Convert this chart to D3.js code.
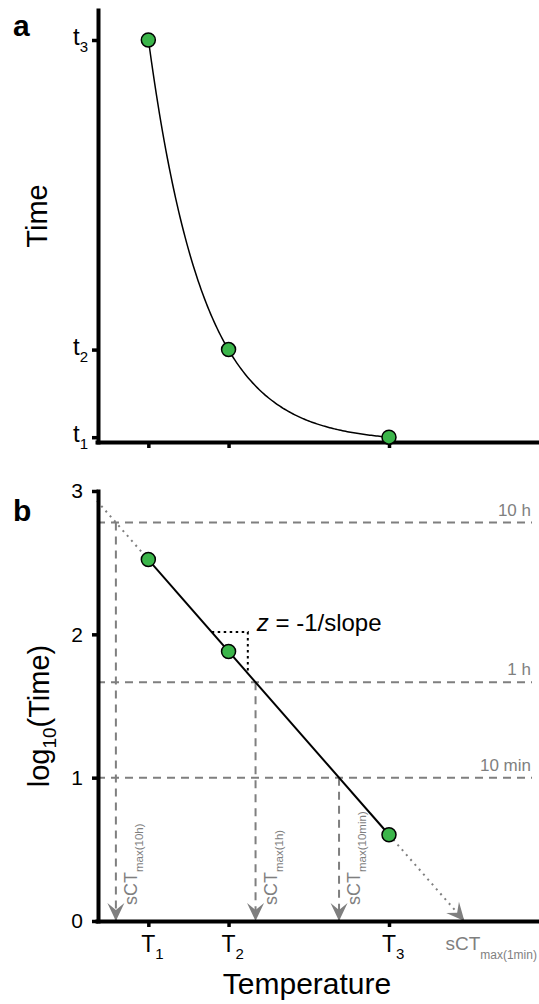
<!DOCTYPE html>
<html>
<head>
<meta charset="utf-8">
<script src="https://cdn.jsdelivr.net/npm/d3@7"></script>
<style>
  html, body { margin: 0; padding: 0; background: #fff; }
  svg { display: block; font-family: "Liberation Sans", Arial, Helvetica, sans-serif; }
</style>
</head>
<body>
<svg id="chart" width="539" height="1004"></svg>
<script>
// ---- data ----
// exposure temperatures (arbitrary units) and their tick subscripts
const temperatures = [1, 2, 4];
const tempSubs = ["1", "2", "3"];
// survival time on a linear scale (panel a) and tick subscripts
const times = [335, 77, 4];
const timeSubs = ["3", "2", "1"];
// log10 survival time (panel b)
const logTimes = [2.522, 1.880, 0.602];
const logTicks = [0, 1, 2, 3];
// reference durations (log10 of time) and their labels
const refLogs = [2.78, 1.666, 1.0];
const refLabels = ["10 h", "1 h", "10 min"];
const refSubs = ["max(10h)", "max(1h)", "max(10min)"];
// extrapolation target at log10(time) = 0
const extLog = 0;
const extSub = "max(1min)";
// temperatures spanning the slope bracket
const slopeSpan = [1.79, 2.24];

// ---- helpers ----
function linearFit(xs, ys) {
  const mx = d3.mean(xs), my = d3.mean(ys);
  const sxy = d3.sum(xs, (v, i) => (v - mx) * (ys[i] - my));
  const sxx = d3.sum(xs, v => (v - mx) * (v - mx));
  const slope = sxy / sxx;
  return { slope, intercept: my - slope * mx };
}
const GREEN = "#3bb54a";
const GREY = "#7f7f7f";

const svg = d3.select("#chart");

// shared temperature scale
const x = d3.scaleLinear().domain([0.36, 5.87]).range([97, 539]);

function styleAxis(g) {
  g.select(".domain").attr("stroke", "#000").attr("stroke-width", 4).attr("stroke-linecap", "square");
  g.selectAll(".tick line").attr("stroke", "#000").attr("stroke-width", 3.5);
}

// ================= panel a : linear time =================
const yA = d3.scaleLinear().domain([0, 360]).range([442, 10]);
const gA = svg.append("g");

const fitA = linearFit(temperatures, times.map(Math.log10));
const curveT = d3.range(temperatures[0], temperatures[2] + 1e-9, 0.02);
gA.append("path")
  .datum(curveT)
  .attr("fill", "none")
  .attr("stroke", "#000")
  .attr("stroke-width", 1.5)
  .attr("d", d3.line()
    .x(t => x(t))
    .y(t => yA(Math.pow(10, fitA.intercept + fitA.slope * t))));

// axes
gA.append("g")
  .attr("transform", "translate(0,442)")
  .call(d3.axisBottom(x).tickValues(temperatures).tickSize(6).tickSizeOuter(0).tickFormat(""))
  .call(styleAxis);
gA.append("g")
  .attr("transform", "translate(98,0)")
  .call(d3.axisLeft(yA).tickValues(times).tickSize(6).tickSizeOuter(0).tickFormat(""))
  .call(styleAxis);

// t tick labels
times.forEach((v, i) => {
  const t = gA.append("text")
    .attr("x", 88).attr("y", yA(v) + 5)
    .attr("text-anchor", "end")
    .attr("font-size", 24).attr("fill", "#000");
  t.append("tspan").text("t");
  t.append("tspan").attr("font-size", 15).attr("dy", 7).text(timeSubs[i]);
});

// points
gA.selectAll("circle.pt")
  .data(temperatures)
  .join("circle")
  .attr("class", "pt")
  .attr("cx", d => x(d))
  .attr("cy", (d, i) => yA(times[i]))
  .attr("r", 7)
  .attr("fill", GREEN)
  .attr("stroke", "#000")
  .attr("stroke-width", 1.5);

gA.append("text")
  .attr("transform", "translate(47,216) rotate(-90)")
  .attr("text-anchor", "middle")
  .attr("font-size", 29)
  .text("Time");

svg.append("text")
  .attr("x", 13).attr("y", 36)
  .attr("font-size", 30).attr("font-weight", "bold")
  .text("a");

// ================= panel b : log10 time =================
const yB = d3.scaleLinear().domain([0, 3]).range([921, 491]);
const gB = svg.append("g");

const fitB = linearFit(temperatures, logTimes);
const logAt = t => fitB.intercept + fitB.slope * t;
const tempAt = v => (v - fitB.intercept) / fitB.slope;

// arrowhead
const defs = svg.append("defs");
defs.append("marker")
  .attr("id", "arrow")
  .attr("markerUnits", "userSpaceOnUse")
  .attr("viewBox", "-20 -10 22 20")
  .attr("refX", 0).attr("refY", 0)
  .attr("markerWidth", 22).attr("markerHeight", 20)
  .attr("orient", "auto")
  .append("path")
  .attr("d", "M0,0 L-18,-8.5 L-11,0 L-18,8.5 Z")
  .attr("fill", GREY);

// horizontal reference lines and labels
const refRight = 532;
refLogs.forEach((v, i) => {
  gB.append("line")
    .attr("x1", x.range()[0]).attr("x2", refRight)
    .attr("y1", yB(v)).attr("y2", yB(v))
    .attr("stroke", GREY).attr("stroke-width", 2)
    .attr("stroke-dasharray", "8,6");
  gB.append("text")
    .attr("x", refRight - 1).attr("y", yB(v) - 7)
    .attr("text-anchor", "end")
    .attr("font-size", 17).attr("fill", GREY)
    .text(refLabels[i]);
});

// vertical drops to the temperature axis
refLogs.forEach((v, i) => {
  const tc = tempAt(v);
  gB.append("line")
    .attr("x1", x(tc)).attr("x2", x(tc))
    .attr("y1", yB(v)).attr("y2", yB(0))
    .attr("stroke", GREY).attr("stroke-width", 2)
    .attr("stroke-dasharray", "8,6")
    .attr("marker-end", "url(#arrow)");
  const lab = gB.append("text")
    .attr("transform", `translate(${x(tc) + 21},${yB(0) - 16}) rotate(-90)`)
    .attr("font-size", 18).attr("fill", GREY);
  lab.append("tspan").text("sCT");
  lab.append("tspan").attr("font-size", 11.5).attr("dy", 6).text(refSubs[i]);
});

// dotted extrapolations
gB.append("line")
  .attr("x1", x(x.domain()[0])).attr("y1", yB(logAt(x.domain()[0])))
  .attr("x2", x(temperatures[0])).attr("y2", yB(logAt(temperatures[0])))
  .attr("stroke", GREY).attr("stroke-width", 2)
  .attr("stroke-dasharray", "2,4.5");
const tExt = tempAt(extLog);
gB.append("line")
  .attr("x1", x(temperatures[2])).attr("y1", yB(logAt(temperatures[2])))
  .attr("x2", x(tExt)).attr("y2", yB(extLog))
  .attr("stroke", GREY).attr("stroke-width", 2)
  .attr("stroke-dasharray", "2,4.5")
  .attr("marker-end", "url(#arrow)");
const extLab = gB.append("text")
  .attr("x", x(tExt) - 19).attr("y", 950)
  .attr("font-size", 19).attr("fill", GREY);
extLab.append("tspan").text("sCT");
extLab.append("tspan").attr("font-size", 12).attr("dy", 9).text(extSub);

// fitted line
gB.append("line")
  .attr("x1", x(temperatures[0])).attr("y1", yB(logAt(temperatures[0])))
  .attr("x2", x(temperatures[2])).attr("y2", yB(logAt(temperatures[2])))
  .attr("stroke", "#000").attr("stroke-width", 2);

// slope bracket
gB.append("path")
  .attr("fill", "none")
  .attr("stroke", "#000").attr("stroke-width", 2)
  .attr("stroke-dasharray", "2.5,3.5")
  .attr("d", d3.line()([
    [x(slopeSpan[0]), yB(logAt(slopeSpan[0]))],
    [x(slopeSpan[1]), yB(logAt(slopeSpan[0]))],
    [x(slopeSpan[1]), yB(logAt(slopeSpan[1]))]
  ]));
const zLab = gB.append("text")
  .attr("x", x(slopeSpan[1]) + 9).attr("y", yB(logAt(slopeSpan[0])) - 1)
  .attr("font-size", 24).attr("fill", "#000");
zLab.append("tspan").attr("font-style", "italic").text("z");
zLab.append("tspan").text(" = -1/slope");

// axes
gB.append("g")
  .attr("transform", "translate(0,921)")
  .call(d3.axisBottom(x).tickValues(temperatures).tickSize(6).tickSizeOuter(0).tickFormat(""))
  .call(styleAxis);
const axB = gB.append("g")
  .attr("transform", "translate(98,0)")
  .call(d3.axisLeft(yB).tickValues(logTicks).tickSize(6).tickPadding(9).tickSizeOuter(0).tickFormat(d3.format("d")))
  .call(styleAxis);
axB.selectAll(".tick text").attr("font-size", 21).attr("fill", "#000")
  .attr("font-family", "Liberation Sans, Arial, sans-serif");

// T tick labels
temperatures.forEach((v, i) => {
  gB.append("text")
    .attr("x", x(v)).attr("y", 952)
    .attr("text-anchor", "middle")
    .attr("font-size", 23).text("T");
  gB.append("text")
    .attr("x", x(v) + 7).attr("y", 959)
    .attr("font-size", 15).text(tempSubs[i]);
});

// points
gB.selectAll("circle.pt")
  .data(temperatures)
  .join("circle")
  .attr("class", "pt")
  .attr("cx", d => x(d))
  .attr("cy", (d, i) => yB(logTimes[i]))
  .attr("r", 7)
  .attr("fill", GREEN)
  .attr("stroke", "#000")
  .attr("stroke-width", 1.5);

// titles
const yt = gB.append("text")
  .attr("transform", "translate(49,716) rotate(-90)")
  .attr("text-anchor", "middle")
  .attr("font-size", 29);
yt.append("tspan").text("log");
yt.append("tspan").attr("font-size", 19).attr("dy", 7).text("10");
yt.append("tspan").attr("dy", -7).text("(Time)");

gB.append("text")
  .attr("x", 307).attr("y", 994)
  .attr("text-anchor", "middle")
  .attr("font-size", 30)
  .text("Temperature");

svg.append("text")
  .attr("x", 13).attr("y", 521)
  .attr("font-size", 30).attr("font-weight", "bold")
  .text("b");
</script>
</body>
</html>
